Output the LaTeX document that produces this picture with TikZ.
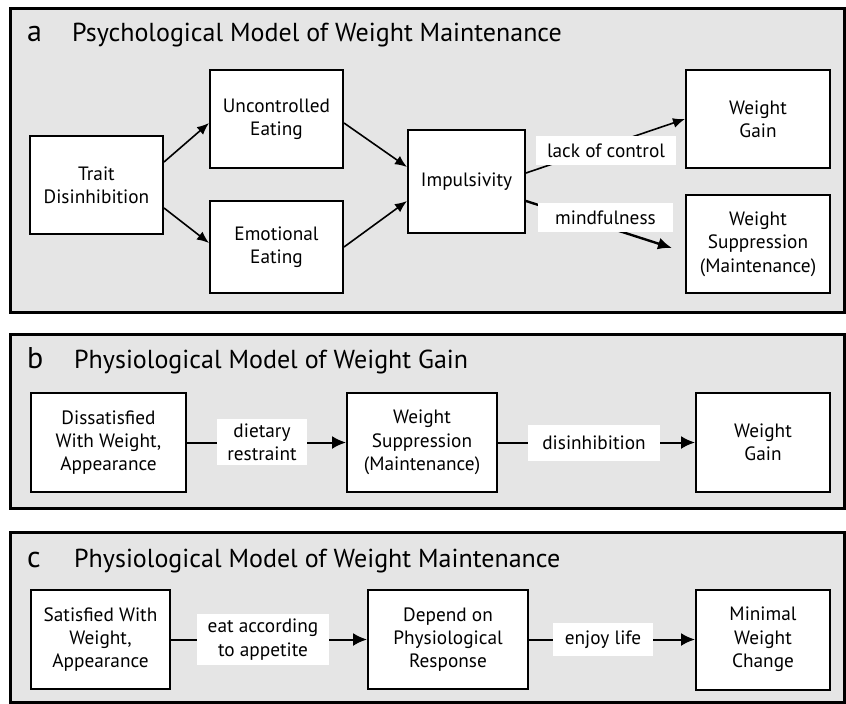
\documentclass[tikz,border=0pt]{standalone}
\usepackage{fontspec}
\setmainfont{PT Sans}
\usetikzlibrary{arrows.meta}
\definecolor{panelgray}{gray}{0.9}
\tikzset{
  panel/.style={draw=black, fill=panelgray, line width=3pt},
  box/.style={draw=black, fill=white, line width=2pt, align=center, inner sep=0pt,
    font=\fontsize{19.3}{23.3}\selectfont},
  lbl/.style={fill=white, align=center, inner sep=0pt,
    font=\fontsize{19.3}{23.3}\selectfont},
  ttl/.style={anchor=base west, inner sep=0pt, font=\fontsize{26}{28}\selectfont},
  letter/.style={anchor=base west, inner sep=0pt, font=\fontsize{30}{32}\selectfont},
  conn/.style={line width=1.6pt, -{Latex[length=12pt,width=10pt]}},
  thickconn/.style={line width=2.4pt, -{Latex[length=14pt,width=12pt]}},
  flow/.style={line width=2pt, -{Latex[length=14pt,width=13pt]}}
}
\begin{document}
\begin{tikzpicture}[x=1pt,y=-1pt]
\useasboundingbox (0,0) rectangle (846,704);
% panels
\draw[panel] (10,8) rectangle (844,312);
\draw[panel] (10,334) rectangle (844,508);
\draw[panel] (10,532) rectangle (844,702);

% ---------- panel a ----------
\node[letter] (la) at (27,41.7) {a};
\node[ttl] (ta) at (72,41.7) {Psychological Model of Weight Maintenance};
\node[box, minimum width=133pt, minimum height=98pt] (trait) at (96.5,185) {Trait\\Disinhibition};
\node[box, minimum width=133pt, minimum height=98pt] (unc) at (276.5,119) {Uncontrolled\\Eating};
\node[box, minimum width=133pt, minimum height=92pt] (emo) at (276.5,247) {Emotional\\Eating};
\node[box, minimum width=117pt, minimum height=103pt] (imp) at (466.5,181.5) {Impulsivity};
\node[box, minimum width=144pt, minimum height=98pt] (wga) at (758,119) {Weight\\Gain};
\node[box, minimum width=144pt, minimum height=98pt] (wsa) at (758,244) {Weight\\Suppression\\(Maintenance)};
\coordinate (mindend) at (672,248);

\draw[conn] ([yshift=23pt]trait.east) -- ([yshift=-4pt]unc.west);
\draw[conn] ([yshift=-23pt]trait.east) -- ([yshift=4pt]emo.west);
\draw[conn] ([yshift=-4pt]unc.east) -- ([yshift=14.5pt]imp.west);
\draw[conn] (emo.east) -- ([yshift=-19.5pt]imp.west);
\draw[conn] ([yshift=8.5pt]imp.east) -- (wga.west);
\draw[thickconn] ([yshift=-19.5pt]imp.east) -- (mindend);

\node[lbl, minimum width=140pt, minimum height=29pt] (lack) at (606,150.5) {lack of control};
\node[lbl, minimum width=135pt, minimum height=29pt] (mind) at (605.5,217.5) {mindfulness};

% ---------- panel b ----------
\node[letter] (lb) at (27,368) {b};
\node[ttl] (tb) at (74,368) {Physiological Model of Weight Gain};
\node[box, minimum width=155pt, minimum height=99pt] (dis) at (108.5,442.5) {Dissatisfied\\With Weight,\\Appearance};
\node[box, minimum width=150pt, minimum height=99pt] (wsb) at (422,442.5) {Weight\\Suppression\\(Maintenance)};
\node[box, minimum width=134pt, minimum height=99pt] (wgb) at (763,442.5) {Weight\\Gain};
\draw[flow] (dis.east) -- (wsb.west);
\draw[flow] (wsb.east) -- (wgb.west);
\node[lbl, minimum width=90pt, minimum height=46pt] (diet) at (262,442) {dietary\\restraint};
\node[lbl, minimum width=132pt, minimum height=36pt] (disinh) at (594,443) {disinhibition};

% ---------- panel c ----------
\node[letter] (lc) at (27,567) {c};
\node[ttl] (tc) at (74,567) {Physiological Model of Weight Maintenance};
\node[box, minimum width=139pt, minimum height=99pt] (sat) at (100.5,639.5) {Satisfied With\\Weight,\\Appearance};
\node[box, minimum width=160pt, minimum height=99pt] (dep) at (448,639.5) {Depend on\\Physiological\\Response};
\node[box, minimum width=134pt, minimum height=100pt] (mwc) at (763,639.5) {Minimal\\Weight\\Change};
\draw[flow] (sat.east) -- (dep.west);
\draw[flow] (dep.east) -- (mwc.west);
\node[lbl, minimum width=132pt, minimum height=51pt] (eat) at (263,639.5) {eat according\\to appetite};
\node[lbl, minimum width=100pt, minimum height=33pt] (enjoy) at (603,639.5) {enjoy life};
\end{tikzpicture}
\end{document}
